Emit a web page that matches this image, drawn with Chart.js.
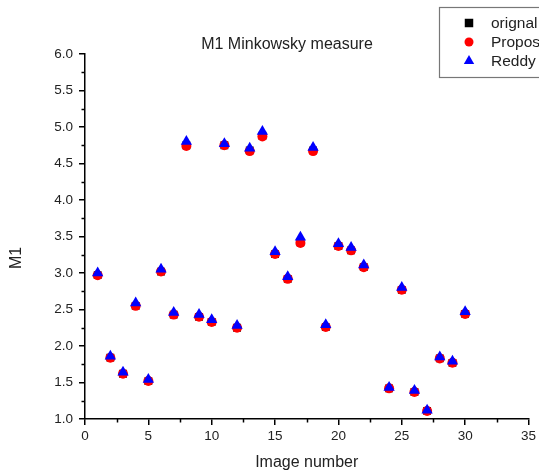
<!DOCTYPE html>
<html>
<head>
<meta charset="utf-8">
<script src="https://cdn.jsdelivr.net/npm/chart.js@4.4.1/dist/chart.umd.min.js"></script>
<style>
  html, body { margin: 0; padding: 0; background: #fff; }
  #wrap { width: 539px; height: 474px; }
</style>
</head>
<body>
<div id="wrap"><canvas id="chart"></canvas></div>
<script>
// Image numbers (no image 23 in the source figure)
const imageNumbers = [1, 2, 3, 4, 5, 6, 7, 8, 9, 10, 11, 12, 13, 14, 15,
  16, 17, 18, 19, 20, 21, 22, 24, 25, 26, 27, 28, 29, 30];

// M1 values
const originalM1 = [2.97, 1.84, 1.62, 2.55, 1.52, 3.02, 2.43, 4.75, 2.40, 2.33, 4.75, 2.25, 4.68, 4.88, 3.26,
  2.92, 3.42, 4.68, 2.26, 3.37, 3.31, 3.08, 1.42, 2.77, 1.37, 1.11, 1.83, 1.77, 2.44];
const proposedM1 = [2.97, 1.84, 1.62, 2.55, 1.52, 3.02, 2.43, 4.74, 2.40, 2.33, 4.75, 2.25, 4.67, 4.87, 3.26,
  2.92, 3.41, 4.67, 2.26, 3.37, 3.31, 3.08, 1.42, 2.77, 1.37, 1.11, 1.83, 1.77, 2.44];
const reddyM1 = [3.00, 1.86, 1.64, 2.59, 1.54, 3.05, 2.46, 4.80, 2.43, 2.36, 4.77, 2.28, 4.71, 4.94, 3.29,
  2.95, 3.49, 4.72, 2.29, 3.40, 3.35, 3.11, 1.43, 2.80, 1.39, 1.12, 1.85, 1.79, 2.47];

const xTickValues = [0, 5, 10, 15, 20, 25, 30, 35];
const yTickValues = [1.0, 1.5, 2.0, 2.5, 3.0, 3.5, 4.0, 4.5, 5.0, 5.5, 6.0];

const chartTitle = 'M1 Minkowsky measure';
const xTitle = 'Image number';
const yTitle = 'M1';

const FONT = '"Liberation Sans", Arial, sans-serif';
const INK = '#222';

const toPoints = (vals) => vals.map((v, i) => ({ x: imageNumbers[i], y: v }));

// minor ticks, plot title, rotated y title and the clipped legend box
const decorations = {
  id: 'decorations',
  afterDraw(chart) {
    const { ctx, chartArea, scales } = chart;
    const xs = scales.x;
    const ys = scales.y;
    ctx.save();

    ctx.strokeStyle = '#000';
    ctx.lineWidth = 1.5;
    for (let i = 0; i < yTickValues.length - 1; i++) {
      const py = Math.round(ys.getPixelForValue((yTickValues[i] + yTickValues[i + 1]) / 2)) + 0.5;
      ctx.beginPath();
      ctx.moveTo(chartArea.left, py);
      ctx.lineTo(chartArea.left - 3.5, py);
      ctx.stroke();
    }
    for (let i = 0; i < xTickValues.length - 1; i++) {
      const px = Math.round(xs.getPixelForValue((xTickValues[i] + xTickValues[i + 1]) / 2)) + 0.5;
      ctx.beginPath();
      ctx.moveTo(px, chartArea.bottom);
      ctx.lineTo(px, chartArea.bottom + 3.5);
      ctx.stroke();
    }

    ctx.fillStyle = INK;
    ctx.textAlign = 'center';
    ctx.textBaseline = 'middle';
    ctx.font = '16px ' + FONT;
    ctx.fillText(chartTitle, 287, 45);

    ctx.save();
    ctx.translate(17, 258);
    ctx.rotate(-Math.PI / 2);
    ctx.fillText(yTitle, 0, 0);
    ctx.restore();

    // legend, running off the right edge like the source image
    ctx.strokeStyle = '#777';
    ctx.lineWidth = 1.2;
    ctx.strokeRect(439.5, 7.5, 200, 70);
    const rows = [23, 42, 61];
    ctx.textAlign = 'left';
    ctx.font = '15.5px ' + FONT;
    chart.data.datasets.forEach((ds, i) => {
      ctx.fillStyle = ds.backgroundColor;
      Chart.helpers.drawPoint(ctx, {
        pointStyle: ds.pointStyle,
        radius: ds.legendRadius,
        rotation: 0,
        borderWidth: 0,
      }, 469, rows[i]);
      ctx.fillStyle = INK;
      ctx.fillText(ds.label, 491, rows[i] + 1);
    });

    ctx.restore();
  },
};

new Chart(document.getElementById('chart'), {
  type: 'scatter',
  data: {
    datasets: [
      {
        label: 'orignal',
        data: toPoints(originalM1),
        pointStyle: 'rect',
        pointRadius: 5.5,
        legendRadius: 6,
        backgroundColor: '#000',
        borderColor: '#000',
        borderWidth: 0,
        order: 2,
      },
      {
        label: 'Proposed',
        data: toPoints(proposedM1),
        pointStyle: 'circle',
        pointRadius: 5,
        legendRadius: 4.5,
        backgroundColor: '#ff0000',
        borderColor: '#ff0000',
        borderWidth: 0,
        order: 1,
      },
      {
        label: 'Reddy',
        data: toPoints(reddyM1),
        pointStyle: 'triangle',
        pointRadius: 6.5,
        legendRadius: 6,
        backgroundColor: '#0000ff',
        borderColor: '#0000ff',
        borderWidth: 0,
        order: 0,
      },
    ],
  },
  options: {
    responsive: true,
    maintainAspectRatio: false,
    animation: false,
    layout: { padding: { top: 54, right: 10, left: 0, bottom: 0 } },
    plugins: {
      legend: { display: false },
      tooltip: { enabled: false },
    },
    scales: {
      x: {
        type: 'linear',
        min: 0,
        max: 35,
        afterBuildTicks: (scale) => { scale.ticks = xTickValues.map((v) => ({ value: v })); },
        afterFit: (scale) => { scale.height = 55; },
        grid: { display: true, drawOnChartArea: false, color: '#000', lineWidth: 1.5, tickLength: 6 },
        border: { display: true, color: '#000', width: 1.5 },
        ticks: { color: INK, font: { family: FONT, size: 13.5 }, padding: 3, maxRotation: 0 },
        title: {
          display: true,
          text: xTitle,
          color: INK,
          font: { family: FONT, size: 16 },
          padding: { top: 0, bottom: 2 },
        },
      },
      y: {
        type: 'linear',
        min: 1,
        max: 6,
        afterBuildTicks: (scale) => { scale.ticks = yTickValues.map((v) => ({ value: v })); },
        afterFit: (scale) => { scale.width = 85; },
        grid: { display: true, drawOnChartArea: false, color: '#000', lineWidth: 1.5, tickLength: 6 },
        border: { display: true, color: '#000', width: 1.5 },
        ticks: {
          color: INK,
          font: { family: FONT, size: 13.5 },
          padding: 6,
          callback: (v) => Number(v).toFixed(1),
        },
      },
    },
  },
  plugins: [decorations],
});
</script>
</body>
</html>
